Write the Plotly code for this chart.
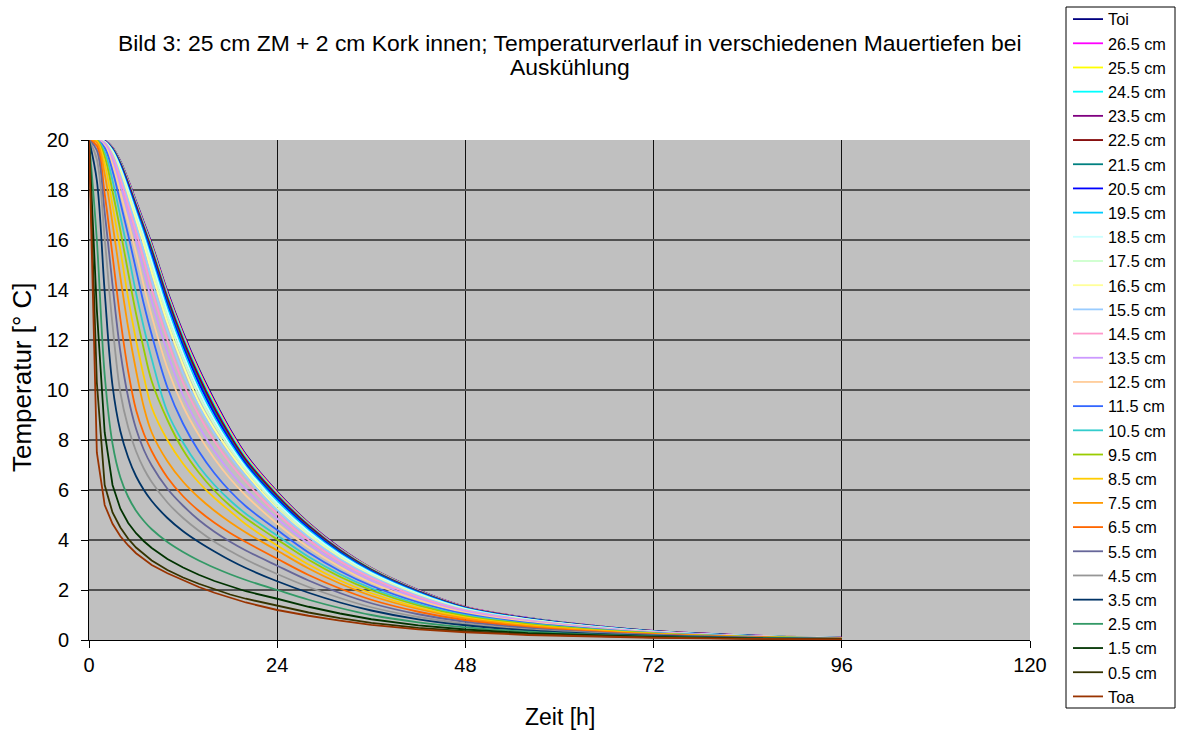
import plotly.graph_objects as go

# Zeitachse [h]
zeit_h = [0, 1, 2, 3, 4, 5, 6, 7, 8, 10, 12, 14, 16, 18, 20, 24, 28, 32, 36, 42, 48, 56, 64, 72, 84, 96]

# Temperaturen [°C] je Messstelle
t_oi  = [20, 20, 19.97, 19.7, 19.15, 18.4, 17.55, 16.7, 15.85, 13.95, 12.3, 10.85, 9.58, 8.42, 7.42, 5.93, 4.68, 3.68, 2.88, 2.0, 1.33, 0.88, 0.58, 0.36, 0.18, 0.09]
t_265 = [20, 20, 19.97, 19.69, 19.13, 18.38, 17.52, 16.66, 15.8, 13.89, 12.24, 10.79, 9.52, 8.37, 7.38, 5.9, 4.66, 3.66, 2.87, 1.99, 1.33, 0.88, 0.58, 0.36, 0.18, 0.09]
t_255 = [20, 20, 19.96, 19.68, 19.12, 18.35, 17.48, 16.62, 15.76, 13.84, 12.18, 10.73, 9.46, 8.32, 7.34, 5.87, 4.64, 3.64, 2.86, 1.98, 1.32, 0.875, 0.577, 0.358, 0.178, 0.089]
t_245 = [20, 20, 19.96, 19.67, 19.1, 18.32, 17.45, 16.58, 15.7, 13.78, 12.12, 10.66, 9.39, 8.26, 7.29, 5.83, 4.61, 3.62, 2.84, 1.97, 1.31, 0.87, 0.573, 0.356, 0.177, 0.088]
t_235 = [20, 20, 19.96, 19.66, 19.07, 18.28, 17.4, 16.52, 15.62, 13.7, 12.03, 10.57, 9.3, 8.19, 7.23, 5.79, 4.58, 3.6, 2.82, 1.96, 1.305, 0.865, 0.57, 0.354, 0.176, 0.088]
t_225 = [20, 20, 19.96, 19.64, 19.04, 18.23, 17.34, 16.46, 15.55, 13.61, 11.94, 10.48, 9.21, 8.12, 7.17, 5.74, 4.54, 3.57, 2.8, 1.94, 1.295, 0.858, 0.566, 0.351, 0.175, 0.087]
t_215 = [20, 20, 19.95, 19.63, 19.01, 18.18, 17.28, 16.39, 15.47, 13.52, 11.85, 10.39, 9.13, 8.05, 7.11, 5.69, 4.5, 3.54, 2.78, 1.93, 1.285, 0.851, 0.562, 0.349, 0.174, 0.087]
t_205 = [20, 20, 19.95, 19.61, 18.98, 18.14, 17.23, 16.32, 15.38, 13.42, 11.74, 10.28, 9.03, 7.97, 7.04, 5.63, 4.46, 3.5, 2.75, 1.91, 1.275, 0.843, 0.557, 0.346, 0.173, 0.086]
t_195 = [20, 20, 19.94, 19.59, 18.93, 18.07, 17.15, 16.24, 15.25, 13.29, 11.6, 10.12, 8.9, 7.87, 6.96, 5.56, 4.4, 3.46, 2.72, 1.89, 1.265, 0.835, 0.552, 0.343, 0.171, 0.086]
t_185 = [20, 20, 19.93, 19.56, 18.88, 18.0, 17.05, 16.12, 15.12, 13.13, 11.44, 9.97, 8.78, 7.77, 6.89, 5.47, 4.33, 3.41, 2.68, 1.86, 1.25, 0.825, 0.545, 0.338, 0.169, 0.085]
t_175 = [20, 20, 19.93, 19.52, 18.81, 17.9, 16.93, 15.98, 14.93, 12.93, 11.24, 9.78, 8.62, 7.65, 6.8, 5.37, 4.25, 3.35, 2.63, 1.83, 1.23, 0.813, 0.537, 0.334, 0.167, 0.084]
t_165 = [20, 20, 19.92, 19.47, 18.72, 17.77, 16.78, 15.8, 14.71, 12.7, 10.99, 9.52, 8.43, 7.5, 6.68, 5.26, 4.17, 3.28, 2.58, 1.79, 1.21, 0.8, 0.528, 0.329, 0.164, 0.083]
t_155 = [20, 20, 19.9, 19.41, 18.6, 17.59, 16.58, 15.54, 14.4, 12.38, 10.66, 9.35, 8.25, 7.33, 6.55, 5.2, 4.12, 3.24, 2.55, 1.77, 1.2, 0.792, 0.522, 0.326, 0.163, 0.082]
t_145 = [20, 20, 19.88, 19.34, 18.43, 17.38, 16.33, 15.22, 14.04, 12.0, 10.28, 9.0, 7.95, 7.07, 6.33, 5.05, 4.0, 3.15, 2.48, 1.72, 1.17, 0.772, 0.509, 0.318, 0.159, 0.08]
t_135 = [20, 20, 19.85, 19.2, 18.21, 17.09, 15.99, 14.76, 13.56, 11.5, 9.78, 8.55, 7.55, 6.72, 6.03, 4.85, 3.85, 3.03, 2.38, 1.66, 1.13, 0.745, 0.492, 0.308, 0.154, 0.078]
t_125 = [20, 20, 19.78, 19.02, 17.9, 16.72, 15.49, 14.16, 12.96, 10.87, 9.35, 8.2, 7.25, 6.45, 5.78, 4.65, 3.7, 2.92, 2.29, 1.6, 1.095, 0.72, 0.476, 0.298, 0.15, 0.076]
t_115 = [20, 20, 19.69, 18.76, 17.5, 16.2, 14.81, 13.43, 12.21, 10.1, 8.65, 7.55, 6.67, 5.95, 5.35, 4.4, 3.5, 2.76, 2.17, 1.51, 1.04, 0.685, 0.455, 0.285, 0.143, 0.073]
t_105 = [20, 20, 19.53, 18.37, 16.94, 15.47, 13.88, 12.49, 11.24, 9.12, 7.9, 6.95, 6.2, 5.58, 5.05, 4.18, 3.33, 2.63, 2.07, 1.44, 0.99, 0.655, 0.435, 0.273, 0.137, 0.07]
t_95  = [20, 19.99, 19.34, 17.95, 16.38, 14.69, 13.05, 11.62, 10.35, 8.8, 7.6, 6.7, 5.97, 5.37, 4.87, 4.02, 3.21, 2.53, 1.99, 1.38, 0.955, 0.63, 0.42, 0.265, 0.133, 0.068]
t_85  = [20, 19.96, 19.05, 17.38, 15.6, 13.66, 12.0, 10.53, 9.3, 8.0, 7.05, 6.3, 5.68, 5.15, 4.63, 3.78, 3.02, 2.38, 1.87, 1.3, 0.9, 0.595, 0.396, 0.25, 0.126, 0.065]
t_75  = [20, 19.9, 18.64, 16.65, 14.51, 12.49, 10.78, 9.31, 8.3, 7.15, 6.33, 5.7, 5.17, 4.71, 4.3, 3.58, 2.86, 2.26, 1.77, 1.24, 0.86, 0.566, 0.377, 0.239, 0.121, 0.063]
t_65  = [20, 19.77, 17.84, 15.38, 12.84, 10.74, 9.2, 8.25, 7.55, 6.5, 5.75, 5.17, 4.69, 4.28, 3.92, 3.25, 2.6, 2.06, 1.61, 1.13, 0.79, 0.518, 0.345, 0.222, 0.113, 0.06]
t_55  = [20, 19.59, 17.11, 14.2, 11.53, 9.7, 8.45, 7.6, 6.98, 6.05, 5.37, 4.8, 4.33, 3.93, 3.58, 2.97, 2.38, 1.88, 1.47, 1.03, 0.725, 0.475, 0.315, 0.204, 0.104, 0.056]
t_45  = [20, 19.23, 16.06, 12.6, 9.9, 8.5, 7.55, 6.85, 6.32, 5.5, 4.88, 4.37, 3.93, 3.56, 3.22, 2.64, 2.12, 1.68, 1.31, 0.92, 0.65, 0.425, 0.283, 0.185, 0.094, 0.051]
t_35  = [20, 18.38, 13.93, 10.17, 8.35, 7.3, 6.55, 6.0, 5.56, 4.88, 4.35, 3.92, 3.54, 3.19, 2.88, 2.35, 1.89, 1.5, 1.18, 0.825, 0.59, 0.385, 0.257, 0.17, 0.087, 0.047]
t_25  = [20, 16.0, 10.6, 7.85, 6.5, 5.72, 5.17, 4.76, 4.43, 3.92, 3.52, 3.18, 2.89, 2.63, 2.4, 2.0, 1.61, 1.28, 1.0, 0.705, 0.505, 0.33, 0.22, 0.146, 0.075, 0.041]
t_15  = [20, 13.2, 8.3, 6.2, 5.25, 4.68, 4.27, 3.95, 3.68, 3.24, 2.9, 2.61, 2.36, 2.14, 1.95, 1.65, 1.33, 1.06, 0.83, 0.585, 0.42, 0.273, 0.183, 0.122, 0.063, 0.035]
t_05  = [20, 10.3, 6.2, 5.1, 4.5, 4.05, 3.7, 3.42, 3.18, 2.8, 2.5, 2.25, 2.02, 1.82, 1.65, 1.36, 1.1, 0.875, 0.686, 0.483, 0.35, 0.227, 0.152, 0.102, 0.052, 0.029]
t_oa  = [20, 7.5, 5.4, 4.65, 4.15, 3.78, 3.47, 3.22, 3.0, 2.67, 2.38, 2.12, 1.89, 1.69, 1.5, 1.2, 0.97, 0.774, 0.606, 0.426, 0.31, 0.2, 0.134, 0.09, 0.046, 0.025]

namen = ["Toi", "26.5 cm", "25.5 cm", "24.5 cm", "23.5 cm", "22.5 cm", "21.5 cm",
         "20.5 cm", "19.5 cm", "18.5 cm", "17.5 cm", "16.5 cm", "15.5 cm", "14.5 cm",
         "13.5 cm", "12.5 cm", "11.5 cm", "10.5 cm", "9.5 cm", "8.5 cm", "7.5 cm",
         "6.5 cm", "5.5 cm", "4.5 cm", "3.5 cm", "2.5 cm", "1.5 cm", "0.5 cm", "Toa"]

reihen = [t_oi, t_265, t_255, t_245, t_235, t_225, t_215, t_205, t_195, t_185,
          t_175, t_165, t_155, t_145, t_135, t_125, t_115, t_105, t_95, t_85,
          t_75, t_65, t_55, t_45, t_35, t_25, t_15, t_05, t_oa]

farben = ["#000080", "#FF00FF", "#FFFF00", "#00FFFF", "#800080", "#800000", "#008080",
          "#0000FF", "#00CCFF", "#CCFFFF", "#CCFFCC", "#FFFF99", "#99CCFF", "#FF99CC",
          "#CC99FF", "#FFCC99", "#3366FF", "#33CCCC", "#99CC00", "#FFCC00", "#FF9900",
          "#FF6600", "#666699", "#969696", "#003366", "#339966", "#003300", "#333300",
          "#993300"]

titel_zeile1 = "Bild 3: 25 cm ZM + 2 cm Kork innen; Temperaturverlauf in verschiedenen Mauertiefen bei"
titel_zeile2 = "Auskühlung"

# steile Randkurven als Polygonzug, die übrigen geglättet
eckig = {"1.5 cm", "0.5 cm", "Toa"}

FONT = "Liberation Sans, Arial, sans-serif"
W, H = 1180, 733
L, R, T, B = 89, 1030, 140, 640          # Zeichenfläche in Pixeln


def px_x(x):
    return (x - L) / (R - L)


def px_y(y):
    return (B - y) / (B - T)


fig = go.Figure()
for name, werte, farbe in zip(namen, reihen, farben):
    fig.add_trace(go.Scatter(
        x=zeit_h, y=werte, name=name, mode="lines",
        line=dict(color=farbe, width=1.8,
                  shape="linear" if name in eckig else "spline"),
    ))

fig.update_layout(
    width=W, height=H,
    margin=dict(l=L, r=W - R, t=T, b=H - B, autoexpand=False),
    paper_bgcolor="white",
    plot_bgcolor="#C0C0C0",
    font=dict(family=FONT, size=20, color="black"),
    legend=dict(
        x=px_x(1068), xanchor="left",
        y=px_y(2), yanchor="top",
        bgcolor="rgba(0,0,0,0)", borderwidth=0,
        font=dict(family=FONT, size=16.3, color="black"),
        tracegroupgap=0, maxheight=760,
    ),
    showlegend=True,
    shapes=[dict(
        type="rect", xref="paper", yref="paper",
        x0=px_x(1066), x1=px_x(1175), y0=px_y(708), y1=px_y(7),
        line=dict(color="black", width=1), fillcolor="white", layer="below",
    )],
    annotations=[
        dict(text=titel_zeile1, xref="paper", yref="paper", x=px_x(570), y=px_y(43),
             xanchor="center", yanchor="middle", showarrow=False,
             font=dict(family=FONT, size=22.9, color="black")),
        dict(text=titel_zeile2, xref="paper", yref="paper", x=px_x(570), y=px_y(67),
             xanchor="center", yanchor="middle", showarrow=False,
             font=dict(family=FONT, size=22.9, color="black")),
        dict(text="Zeit [h]", xref="paper", yref="paper", x=px_x(560), y=px_y(717),
             xanchor="center", yanchor="middle", showarrow=False,
             font=dict(family=FONT, size=23, color="black")),
        dict(text="Temperatur [° C]", xref="paper", yref="paper", x=px_x(22), y=px_y(377),
             xanchor="center", yanchor="middle", showarrow=False, textangle=-90,
             font=dict(family=FONT, size=26, color="black")),
    ],
)

fig.update_xaxes(
    range=[0, 120], tickmode="array", tickvals=[0, 24, 48, 72, 96, 120],
    showgrid=True, gridcolor="#111111", gridwidth=1,
    showline=True, linecolor="black", linewidth=1,
    ticks="outside", ticklen=7, tickcolor="black",
    tickfont=dict(family=FONT, size=20),
    zeroline=False,
)
fig.update_yaxes(
    range=[0, 20], tickmode="linear", tick0=0, dtick=2,
    showgrid=True, gridcolor="#505050", gridwidth=1.5,
    showline=True, linecolor="black", linewidth=1,
    ticks="outside", ticklen=7, tickcolor="black",
    tickfont=dict(family=FONT, size=20), ticklabelstandoff=8,
    zeroline=False,
)

fig.write_html("out.html")
